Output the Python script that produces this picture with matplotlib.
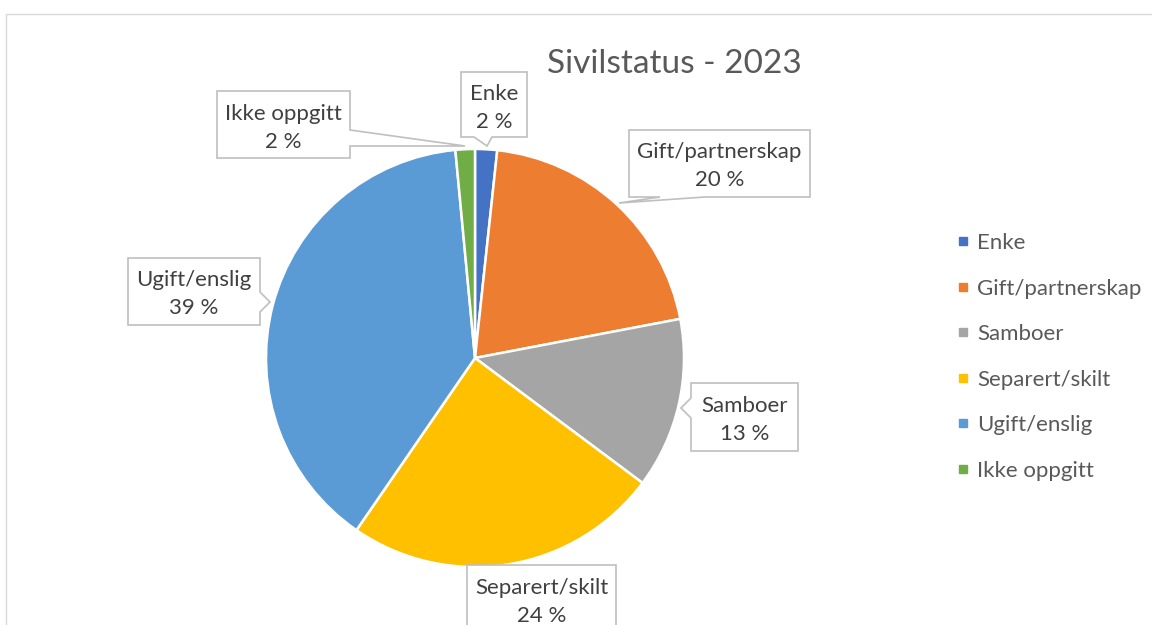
import matplotlib
matplotlib.use("Agg")
import matplotlib.pyplot as plt
from matplotlib.patches import Polygon, Rectangle
from matplotlib.lines import Line2D

plt.rcParams['font.family'] = ['Lato', 'DejaVu Sans']

# data (prosent)
kategorier = ['Enke', 'Gift/partnerskap', 'Samboer', 'Separert/skilt', 'Ugift/enslig', 'Ikke oppgitt']
andel = [1.7, 20.3, 13.2, 24.4, 38.9, 1.5]
farger = ['#4472C4', '#ED7D31', '#A5A5A5', '#FFC000', '#5B9BD5', '#70AD47']
tittel = 'Sivilstatus - 2023'

W, H = 1152, 625
fig = plt.figure(figsize=(W / 100, H / 100), dpi=100)
ax = fig.add_axes([0, 0, 1, 1])

# kakediagram (y-aksen snus etterpaa, derfor counterclock=True)
wedges, _ = ax.pie(andel, colors=farger, center=(475, 358), radius=209,
                   startangle=-90, counterclock=True,
                   wedgeprops=dict(edgecolor='white', linewidth=1.8))
ax.set_xlim(0, W)
ax.set_ylim(H, 0)
ax.set_aspect('auto')
ax.axis('off')

# ramme rundt diagramomraadet
ax.add_patch(Rectangle((6, 14), 1300, 700, fill=False, edgecolor='#d9d9d9', lw=1, zorder=0))

ax.text(674, 64, tittel, ha='center', va='center', fontsize=24, color='#595959')


def callout(box, side=None, a=None, b=None, tip=None):
    x0, y0, x1, y1 = box
    pts = [(x0, y0)]
    if side == 'top':
        pts += [(a, y0), tip, (b, y0)]
    pts.append((x1, y0))
    if side == 'right':
        pts += [(x1, a), tip, (x1, b)]
    pts.append((x1, y1))
    if side == 'bottom':
        pts += [(b, y1), tip, (a, y1)]
    pts.append((x0, y1))
    if side == 'left':
        pts += [(x0, b), tip, (x0, a)]
    ax.add_patch(Polygon(pts, closed=True, facecolor='white', edgecolor='#bfbfbf',
                         lw=1.2, zorder=5))


# etikettbokser: (boks, side, a, b, spiss)
bokser = [
    ((461, 72, 527, 137), 'bottom', 474, 492, (487, 146)),
    ((629, 130, 810, 197), 'bottom', 660, 705, (619, 203)),
    ((691, 383, 798, 451), 'left', 398, 418, (681, 408)),
    ((467, 565, 616, 632), None, None, None, None),
    ((128, 258, 260, 325), 'right', 292, 312, (270, 302)),
    ((217, 91, 350, 158), 'right', 130, 146, (465, 146)),
]

for navn, v, (box, side, a, b, tip) in zip(kategorier, andel, bokser):
    callout(box, side, a, b, tip)
    cx = (box[0] + box[2]) / 2
    cy = (box[1] + box[3]) / 2
    ax.text(cx, cy - 11, navn, ha='center', va='center', fontsize=16, color='#404040', zorder=6)
    ax.text(cx, cy + 17, f'{round(v)} %', ha='center', va='center', fontsize=16,
            color='#404040', zorder=6)

handles = [Line2D([], [], marker='s', ls='', color=c, markersize=6) for c in farger]
leg = ax.legend(handles, kategorier, loc='upper left', bbox_to_anchor=(955, 233),
                bbox_transform=ax.transData, frameon=False, fontsize=16,
                labelspacing=1.15, handlelength=0.7, handletextpad=0.3,
                borderpad=0, borderaxespad=0)
for t in leg.get_texts():
    t.set_color('#595959')

fig.savefig('out.png', dpi=100)
